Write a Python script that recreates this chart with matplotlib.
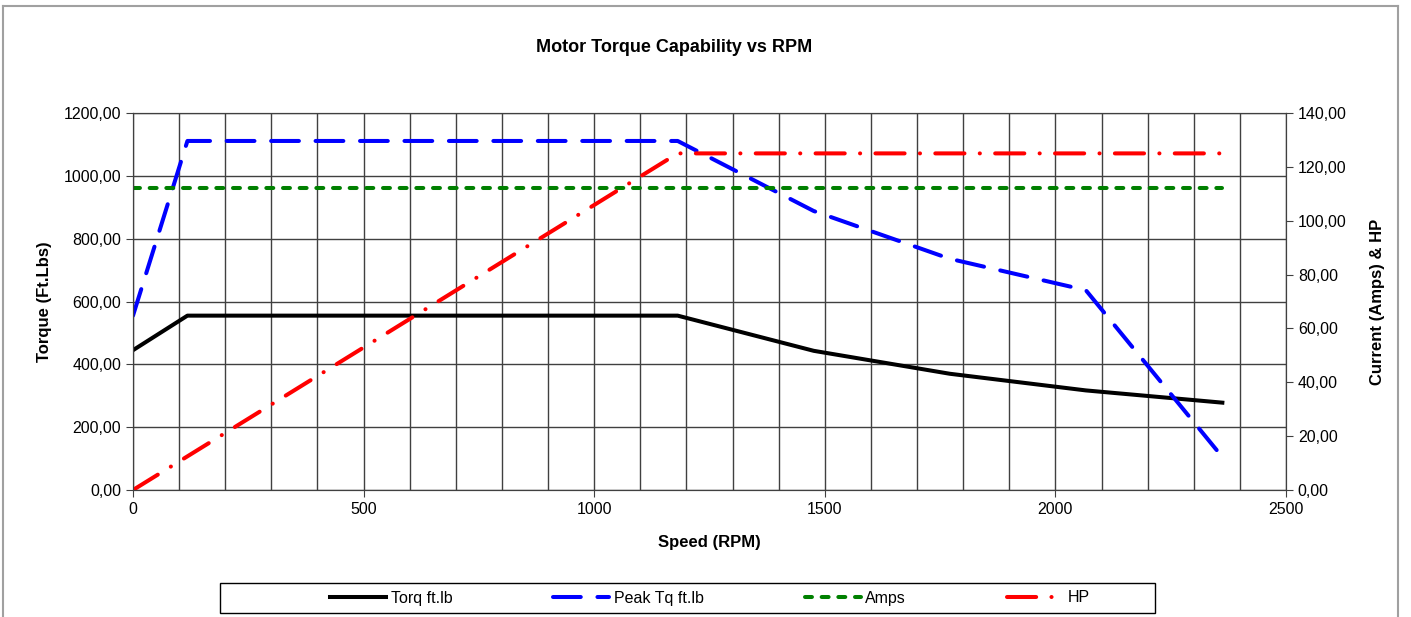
import numpy as np
import matplotlib.pyplot as plt
from matplotlib.ticker import FuncFormatter, MultipleLocator
from matplotlib.lines import Line2D
from matplotlib.patches import Rectangle

plt.rcParams['font.family'] = ['Liberation Sans', 'DejaVu Sans']
plt.rcParams['lines.scale_dashes'] = False

# data
rpm = [0, 118, 1181, 1476, 1771, 2066, 2362]
torq = [445, 555, 555, 443, 370, 317, 278]
peak_tq = [555, 1111, 1111, 888, 736, 636, 105]
amps = [112, 112, 112, 112, 112, 112, 112]
hp = [0, 12.5, 125, 125, 125, 125, 125]

W, H = 1411, 617
fig = plt.figure(figsize=(W / 100, H / 100), dpi=100)
ax = fig.add_axes([133 / W, 1 - 490 / H, (1286 - 133) / W, (490 - 113) / H])
ax2 = ax.twinx()


def comma(v, pos):
    return f"{v:.2f}".replace('.', ',')


ax.set_xlim(0, 2500)
ax.set_ylim(0, 1200)
ax2.set_ylim(0, 140)
ax.xaxis.set_major_locator(MultipleLocator(500))
ax.xaxis.set_minor_locator(MultipleLocator(100))
ax.yaxis.set_major_locator(MultipleLocator(200))
ax2.yaxis.set_major_locator(MultipleLocator(20))
ax.yaxis.set_major_formatter(FuncFormatter(comma))
ax2.yaxis.set_major_formatter(FuncFormatter(comma))

ax.grid(True, which='both', axis='x', color='#404040', lw=1)
ax.grid(True, which='major', axis='y', color='#404040', lw=1)
ax.set_axisbelow(True)
ax.tick_params(axis='x', which='minor', length=0)
ax.tick_params(axis='both', which='major', direction='out', length=5,
               labelsize=11.5, color='#404040')
ax2.tick_params(axis='y', direction='out', length=5, labelsize=11.5, color='#404040')
for a in (ax, ax2):
    for s in a.spines.values():
        s.set_color('#404040')

l1, = ax.plot(rpm, torq, color='black', lw=2.9, solid_joinstyle='round',
              label='Torq ft.lb')
l2, = ax.plot(rpm, peak_tq, color='#0000ff', lw=2.9, dash_capstyle='round',
              dashes=(20, 12), label='Peak Tq ft.lb')
l3, = ax2.plot(rpm, amps, color='#008000', lw=2.9, dash_capstyle='round',
               dashes=(5, 7), label='Amps')
l4, = ax2.plot(rpm, hp, color='#ff0000', lw=2.9, dash_capstyle='round',
               dashes=(21, 11, 0.1, 11), label='HP')

ax.set_xlabel('Speed (RPM)', fontsize=12, fontweight='bold', labelpad=13)
ax.set_ylabel('Torque (Ft.Lbs)', fontsize=12, fontweight='bold', labelpad=8)
ax2.set_ylabel('Current (Amps) & HP', fontsize=12, fontweight='bold', labelpad=17)

fig.text(674 / W, 1 - 47 / H, 'Motor Torque Capability vs RPM', ha='center',
         va='center', fontsize=13, fontweight='bold')

# legend box drawn separately, entries placed inside it
fig.add_artist(Rectangle((220 / W, 1 - 613 / H), 935 / W, 30 / H,
                         transform=fig.transFigure, fill=False,
                         edgecolor='black', lw=1))
leg = fig.legend(handles=[l1, l2, l3, l4], loc='center', ncol=4,
                 bbox_to_anchor=(710 / W, 1 - 598 / H),
                 fontsize=11.5, frameon=False, handlelength=3.5,
                 handletextpad=0.3, columnspacing=6.3, borderaxespad=0)

# chart area border
for xs, ys in [([3, 3], [6, 640]), ([3, 1398], [6, 6]), ([1398, 1398], [6, 640])]:
    fig.add_artist(Line2D([x / W for x in xs], [1 - y / H for y in ys],
                          color='#a0a0a0', lw=1.5))

fig.savefig('out.png', dpi=100)
